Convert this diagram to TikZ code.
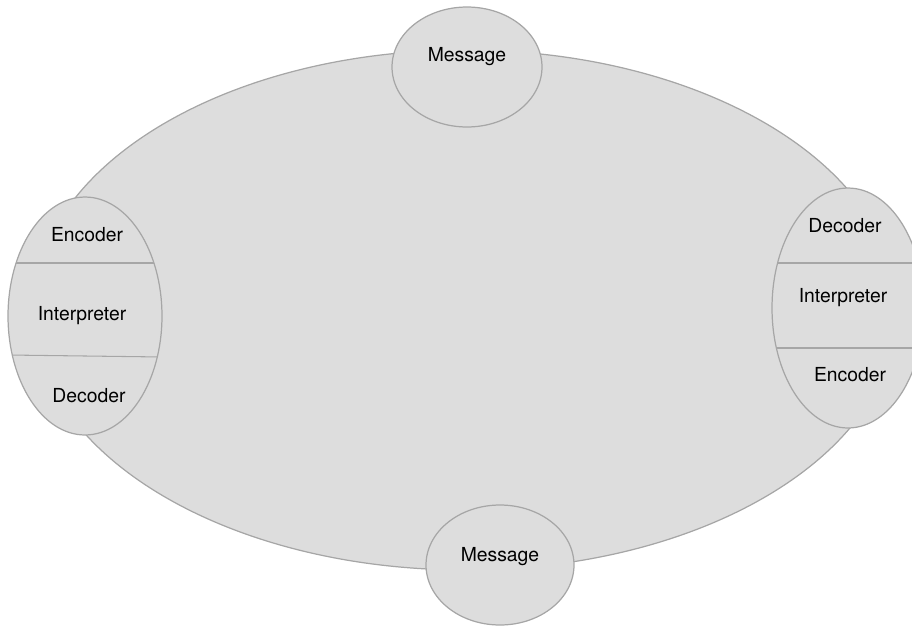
\documentclass[tikz,border=0pt]{standalone}
\usepackage{fontspec}
\setmainfont{TeX Gyre Heros}
\usepackage{tikz}
\usetikzlibrary{shapes.geometric}
\definecolor{bubblefill}{HTML}{DDDDDD}
\definecolor{bubbleline}{HTML}{A6A6A6}
\tikzstyle{bubble} = [ellipse, inner sep=0pt, draw=bubbleline, line width=0.7pt, fill=bubblefill]
\tikzstyle{label} = [font=\fontsize{11}{13}\selectfont, inner sep=1pt]
\tikzstyle{divider} = [draw=bubbleline, line width=0.6pt]

\begin{document}
\begin{tikzpicture}[x=0.02cm, y=-0.02cm]
\useasboundingbox (0,0) rectangle (912,626);

% the shared field
\node (field) [bubble, minimum width=17.28cm, minimum height=10.4cm] at (465,310) {};

% messages and the two parties
\node (msgtop) [bubble, minimum width=3cm, minimum height=2.4cm] at (467,67) {};
\node (msgbot) [bubble, minimum width=2.96cm, minimum height=2.4cm] at (500,565) {};
\node (lefte) [bubble, minimum width=3.08cm, minimum height=4.76cm] at (85,316) {};
\node (righte) [bubble, minimum width=3.04cm, minimum height=4.8cm] at (848,308) {};

% dividers
\begin{scope}
\clip (lefte.center) ellipse [x radius=1.54cm, y radius=2.38cm];
\draw [divider] ([yshift=1.06cm]lefte.west) -- ([yshift=1.06cm]lefte.east);
\draw [divider] ([yshift=-0.78cm]lefte.west) -- ([yshift=-0.82cm]lefte.east);
\end{scope}
\begin{scope}
\clip (righte.center) ellipse [x radius=1.52cm, y radius=2.4cm];
\draw [divider] ([yshift=0.9cm]righte.west) -- ([yshift=0.9cm]righte.east);
\draw [divider] ([yshift=-0.8cm]righte.west) -- ([yshift=-0.8cm]righte.east);
\end{scope}

% texts
\node (msgtoptext) [label] at (467,57) {Message};
\node (msgbottext) [label] at (500,557) {Message};
\node (lenc) [label] at (87,235) {Encoder};
\node (lint) [label] at (82,316) {Interpreter};
\node (ldec) [label] at (89,396) {Decoder};
\node (rdec) [label] at (845,226) {Decoder};
\node (rint) [label] at (843,298) {Interpreter};
\node (renc) [label] at (850,375) {Encoder};

\end{tikzpicture}
\end{document}
